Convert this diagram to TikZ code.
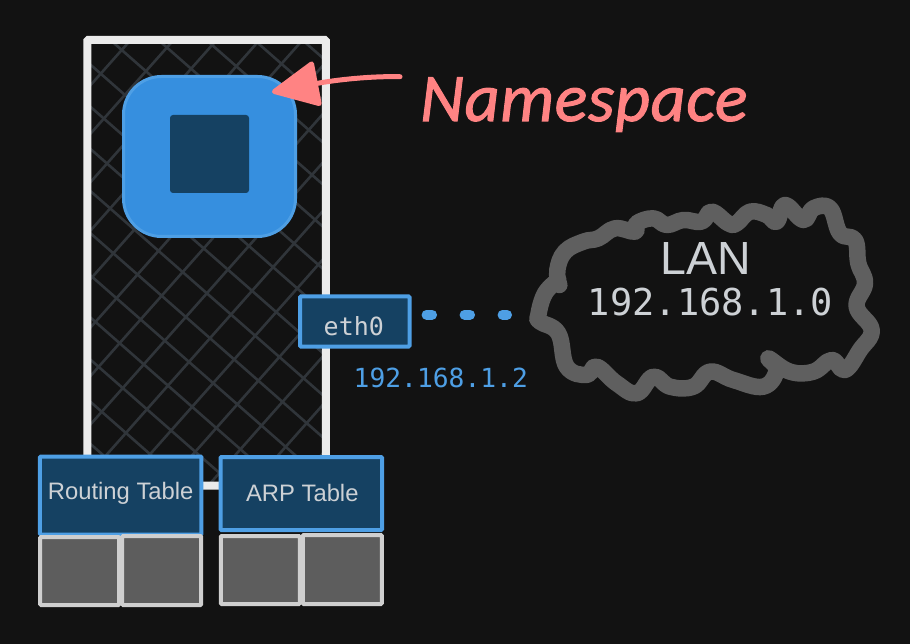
\documentclass[tikz,border=0pt]{standalone}
\usepackage{fontspec}
\usetikzlibrary{arrows.meta,positioning,calc}
\setmainfont{Liberation Sans}
\newfontfamily\netmono{DejaVu Sans Mono}
\newfontfamily\handfont[LetterSpace=1,FakeBold=1.5]{Carlito}
\definecolor{pagebg}{HTML}{121212}
\definecolor{framewhite}{HTML}{EBEBEB}
\definecolor{hatchgrey}{HTML}{30353A}
\definecolor{bluefill}{HTML}{368FDF}
\definecolor{blueedge}{HTML}{4E9FE5}
\definecolor{darkblue}{HTML}{154162}
\definecolor{cellgrey}{HTML}{5D5D5D}
\definecolor{celledge}{HTML}{CFCFCF}
\definecolor{cloudgrey}{HTML}{5F5F5F}
\definecolor{labelgrey}{HTML}{CDD1D5}
\definecolor{salmon}{HTML}{FF8383}

\begin{document}
\begin{tikzpicture}[x=1pt, y=-1pt]
	\tikzstyle{frame} = [rectangle, minimum width=238.5pt, minimum height=445.5pt, line width=8pt, outer sep=0pt]
	\tikzstyle{squircle} = [rectangle, rounded corners=38pt, minimum width=172pt, minimum height=160pt, line width=3pt, draw=blueedge, fill=bluefill]
	\tikzstyle{core} = [rectangle, rounded corners=3pt, minimum width=79pt, minimum height=78pt, fill=darkblue]
	\tikzstyle{table} = [rectangle, rounded corners=1pt, minimum width=161.5pt, line width=4pt, draw=blueedge, fill=darkblue]
	\tikzstyle{iface} = [rectangle, rounded corners=1pt, minimum width=109.5pt, minimum height=50pt, line width=4pt, draw=blueedge, fill=darkblue]
	\tikzstyle{cell} = [rectangle, rounded corners=1pt, minimum width=79pt, line width=4pt, draw=celledge, fill=cellgrey]
	\tikzstyle{tabletext} = [anchor=base, text=labelgrey, font=\fontsize{23.8}{27}\selectfont]
	\tikzstyle{hatch} = [line width=2.6pt, draw=hatchgrey]
	\fill[pagebg] (0,0) rectangle (910,644);
	\useasboundingbox (0,0) rectangle (910,644);
	% namespace frame
	\node (frame) [frame] at (206.5,262.75) {};
	\begin{scope}
		\clip (frame.north west) rectangle (frame.south east);
		\foreach \i in {-6,...,13} {
			\draw[hatch] ({338.1+43*\i-600/1.127},600) -- ({338.1+43*\i},0);
		}
		\foreach \i in {-9,...,11} {
			\draw[hatch] ({-175.2+48*\i},0) -- ({-175.2+48*\i+600/0.878},600);
		}
	\end{scope}
	\node (frame_edge) [frame, draw=framewhite, rounded corners=1pt] at (frame.center) {};
	\node (squircle) [squircle] at ($(frame.north)+(3,116.5)$) {};
	\node (core) [core] at ($(squircle.center)+(0,-2.5)$) {};
	% tables
	\node (routing_table) [table, minimum height=78pt] at (120.7,495.5) {};
	\node (arp_table) [table, minimum height=73pt] at (301.3,493.5) {};
	\node (routing_label) [tabletext] at ($(routing_table.center)+(0,3.8)$) {Routing Table};
	\node (arp_label) [tabletext] at ($(arp_table.center)+(1,7.8)$) {ARP Table};
	\node (cell_1) [cell, minimum height=68pt] at ($(routing_table.south)+(-41,34.5)$) {};
	\node (cell_2) [cell, minimum height=69pt] at ($(routing_table.south)+(41,34)$) {};
	\node (cell_3) [cell, minimum height=68pt] at ($(arp_table.south)+(-41,38)$) {};
	\node (cell_4) [cell, minimum height=69pt] at ($(arp_table.south)+(41,37.5)$) {};
	% interface
	\node (eth0) [iface] at (354.8,321.5) {};
	\node (eth0_label) [anchor=base, text=labelgrey, font=\netmono\fontsize{25}{28}\selectfont] at ($(eth0.center)+(-1,13.5)$) {eth0};
	\node (eth0_addr) [anchor=base, text=blueedge, font=\netmono\fontsize{26.3}{30}\selectfont] at ($(eth0.center)+(86,65.5)$) {192.168.1.2};
	% lan cloud
	\begin{scope}[shift={(520,190)}, scale=1/3]
		\draw[line width=16.5pt, draw=cloudgrey, line cap=round, line join=round] plot[smooth, tension=0.7] coordinates {
			(118,285) (112,240) (135,185) (190,155) (235,145) (285,115) (345,125) (350,100) (400,85) (440,105)
			(490,90) (545,95) (575,65) (625,100) (650,100) (690,65) (740,75) (770,95) (795,45) (850,90)
			(880,55) (930,55) (960,130) (1005,150) (1015,220) (1035,280) (1010,350) (1055,420) (1020,480)
			(975,540) (935,510) (880,545) (810,545) (745,505) (770,540) (730,590) (640,570) (570,545) (520,590)
			(450,590) (400,560) (350,610) (290,580) (230,530) (200,555) (140,530) (115,430) (60,395) (55,375)
			(75,310) (115,270)};
	\end{scope}
	\coordinate (cloud_west) at (507,314.7);
	\node (lan_label) [anchor=base, text=labelgrey, font=\fontsize{46.5}{50}\selectfont] at (705.5,275) {LAN};
	\node (lan_addr) [anchor=base, text=labelgrey, font=\netmono\fontsize{37}{40}\selectfont] at (710.5,316) {192.168.1.0};
	\draw[line width=10pt, draw=blueedge, line cap=round, dash pattern=on 5.5pt off 32.5pt, shorten <=15pt] ([yshift=6.8pt]eth0.east) -- (cloud_west);
	% namespace pointer
	\node (namespace) [anchor=base west, inner sep=0pt, text=salmon, font=\handfont\itshape\fontsize{68}{72}\selectfont] at (420,121) {Namespace};
	\coordinate (pointer_start) at (400,76.7);
	\coordinate (pointer_tip) at (272,92);
	\draw[line width=5pt, draw=salmon, line cap=round, -{Triangle[length=50pt, width=47pt, round]}, fill=salmon] (pointer_start) .. controls (370,76) and (335,80) .. (pointer_tip);
\end{tikzpicture}
\end{document}
